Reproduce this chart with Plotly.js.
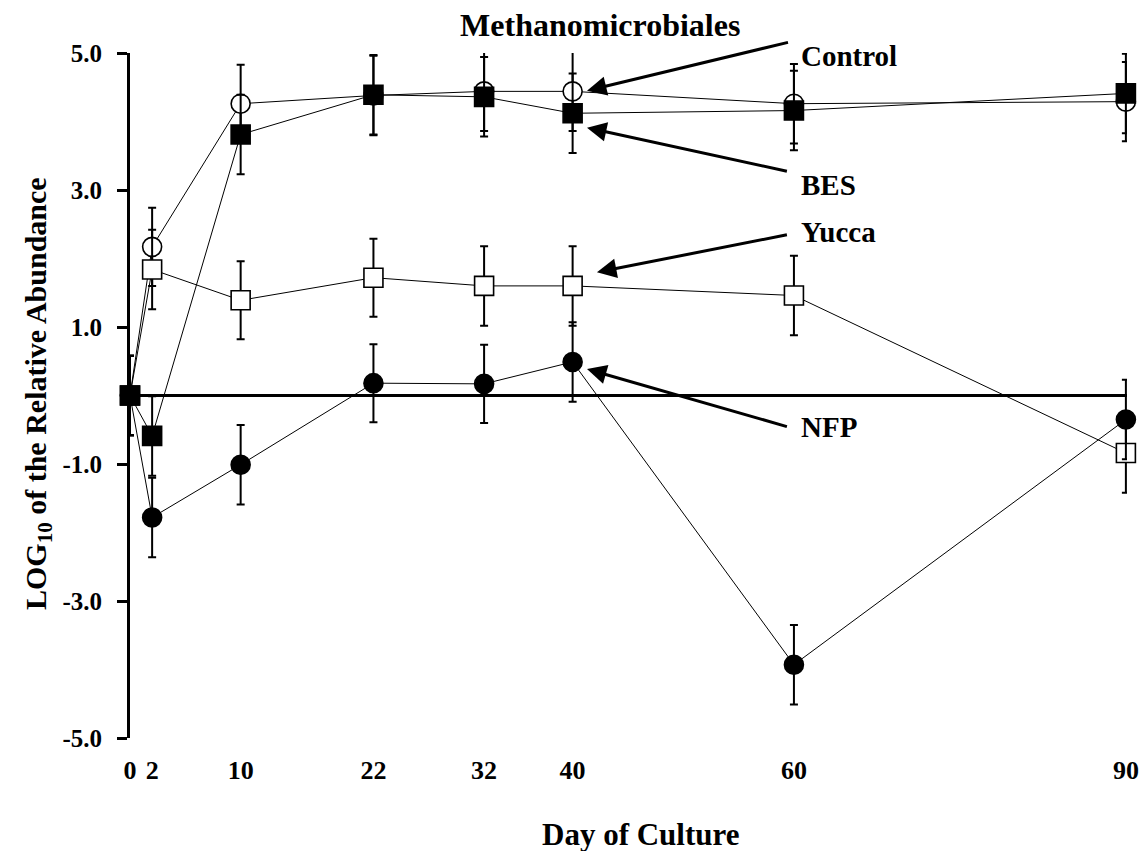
<!DOCTYPE html>
<html>
<head>
<meta charset="utf-8">
<script src="https://cdn.plot.ly/plotly-3.0.1.min.js"></script>
<style>
  html, body { margin: 0; padding: 0; background: #fff; }
  #chart { width: 1139px; height: 851px; }
</style>
</head>
<body>
<div id="chart"></div>
<script>
// Sampling days
const days = [0, 2, 10, 22, 32, 40, 60, 90];

// LOG10 relative abundance per treatment
const control = [0, 2.17, 4.26, 4.38, 4.44, 4.44, 4.26, 4.29];
const bes     = [0, -0.59, 3.81, 4.39, 4.36, 4.12, 4.16, 4.41];
const yucca   = [0, 1.84, 1.39, 1.72, 1.60, 1.60, 1.46, -0.84];
const nfp     = [0, -1.78, -1.01, 0.18, 0.17, 0.49, -3.93, -0.35];

// Standard errors
const controlErr = [0.58, 0.57, 0.57, 0.58, 0.58, 0.58, 0.58, 0.58];
const besErr     = [0.58, 0.58, 0.58, 0.58, 0.58, 0.58, 0.58, 0.58];
const yuccaErr   = [0.58, 0.58, 0.57, 0.57, 0.58, 0.58, 0.58, 0.58];
const nfpErr     = [0.58, 0.58, 0.58, 0.57, 0.57, 0.58, 0.58, 0.58];

// Axis ticks
const xTicks = [0, 2, 10, 22, 32, 40, 60, 90];
const yTicks = [-5, -3, -1, 1, 3, 5];

// Series labels
const names = ['Control', 'BES', 'Yucca', 'NFP'];

const FONT = 'Liberation Serif, Times New Roman, serif';

function series(name, y, err, symbol, fill) {
  return {
    type: 'scatter',
    mode: 'lines+markers',
    name: name,
    x: days,
    y: y,
    cliponaxis: false,
    line: { color: '#000', width: 1 },
    marker: { symbol: symbol, size: 19, color: fill, line: { color: '#000', width: 1.6 } },
    error_y: { type: 'data', array: err, visible: true, color: '#000', thickness: 2, width: 4 }
  };
}

const traces = [
  series(names[0], control, controlErr, 'circle', '#fff'),
  series(names[2], yucca, yuccaErr, 'square', '#fff'),
  series(names[3], nfp, nfpErr, 'circle', '#000'),
  series(names[1], bes, besErr, 'square', '#000')
];

// Label text and arrow (tail -> head) for each series, in data units
const labelPos = {
  Control: { x: 60.5, y: 4.96 },
  BES:     { x: 60.5, y: 3.07 },
  Yucca:   { x: 60.5, y: 2.38 },
  NFP:     { x: 60.5, y: -0.46 }
};
const arrows = {
  Control: { tail: [59.6, 5.16], head: [41.3, 4.45] },
  BES:     { tail: [59.5, 3.27], head: [41.3, 3.91] },
  Yucca:   { tail: [59.5, 2.35], head: [42.2, 1.80] },
  NFP:     { tail: [59.5, -0.46], head: [41.3, 0.386] }
};

const annotations = [];
names.forEach(function (n) {
  annotations.push({
    text: n, x: labelPos[n].x, y: labelPos[n].y, xref: 'x', yref: 'y',
    xanchor: 'left', yanchor: 'middle', showarrow: false,
    font: { family: FONT, size: 29, color: '#000', weight: 'bold' }
  });
  annotations.push({
    text: '', x: arrows[n].head[0], y: arrows[n].head[1],
    ax: arrows[n].tail[0], ay: arrows[n].tail[1],
    xref: 'x', yref: 'y', axref: 'x', ayref: 'y',
    showarrow: true, arrowhead: 2, arrowsize: 1.3, arrowwidth: 3, arrowcolor: '#000',
    standoff: 0, startstandoff: 0
  });
});

// Axis titles
annotations.push({
  text: 'Day of Culture', xref: 'paper', yref: 'paper', x: 0.5125, y: -0.1407,
  xanchor: 'center', yanchor: 'middle', showarrow: false,
  font: { family: FONT, size: 31, color: '#000', weight: 'bold' }
});
annotations.push({
  text: 'LOG<sub>10</sub> of the Relative Abundance', xref: 'paper', yref: 'paper',
  x: -0.0923, y: 0.5036, textangle: -90,
  xanchor: 'center', yanchor: 'middle', showarrow: false,
  font: { family: FONT, size: 30, color: '#000', weight: 'bold' }
});

const layout = {
  width: 1139,
  height: 851,
  margin: { l: 130, r: 12, t: 52.5, b: 112.5 },
  paper_bgcolor: '#fff',
  plot_bgcolor: '#fff',
  showlegend: false,
  title: {
    text: 'Methanomicrobiales',
    xref: 'container', yref: 'container', x: 0.527, y: 0.9706,
    xanchor: 'center', yanchor: 'middle',
    font: { family: FONT, size: 32, color: '#000', weight: 'bold' }
  },
  xaxis: {
    range: [0, 90.1],
    showline: false, showgrid: false, zeroline: false,
    tickmode: 'array', tickvals: xTicks, ticktext: xTicks.map(String),
    ticks: '', ticklabelstandoff: 14, ticklabeloverflow: 'allow',
    tickfont: { family: FONT, size: 26, color: '#000', weight: 'bold' }
  },
  yaxis: {
    range: [-5, 5],
    showline: true, linecolor: '#000', linewidth: 3,
    showgrid: false,
    zeroline: true, zerolinecolor: '#000', zerolinewidth: 3,
    tickmode: 'array', tickvals: yTicks, ticktext: yTicks.map(function (v) { return v.toFixed(1); }),
    ticks: 'outside', ticklen: 10, tickwidth: 3, tickcolor: '#000',
    ticklabelstandoff: 10,
    tickfont: { family: FONT, size: 25, color: '#000', weight: 'bold' }
  },
  annotations: annotations
};

Plotly.newPlot('chart', traces, layout, { displayModeBar: false, staticPlot: true });
</script>
</body>
</html>
